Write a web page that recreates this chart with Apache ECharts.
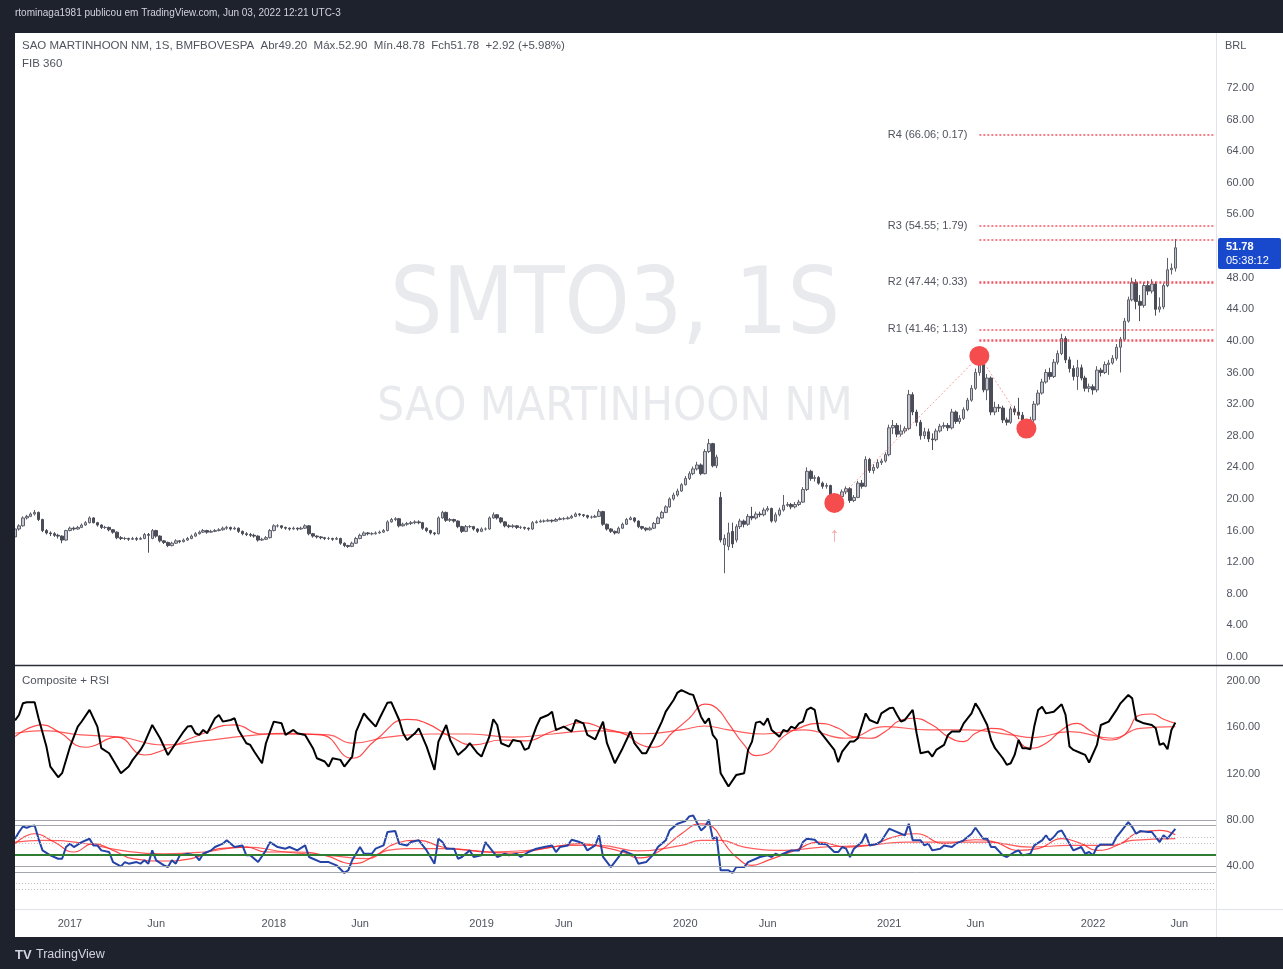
<!DOCTYPE html>
<html>
<head>
<meta charset="utf-8">
<title>SMTO3, 1S</title>
<script src="https://cdn.jsdelivr.net/npm/echarts@6/dist/echarts.min.js"></script>
<style>
html, body { margin: 0; padding: 0; background: #1e222d; }
#chart { width: 1283px; height: 969px; }
</style>
</head>
<body>
<div id="chart"></div>
<script>
// weekly bars, first one dated 2016-09-26, last one 2022-05-30
const firstWeek = Date.UTC(2016, 8, 26)
const futureWeeks = 10

// [open, close, low, high]
const weeklyOHLC = [
  [15.2,16.2,15.0,16.4],[16.2,16.6,16.0,16.8],[16.6,17.6,16.5,17.8],[17.6,17.8,17.4,18.0],[17.8,18.1,17.7,18.3],
  [18.1,18.3,17.9,18.6],[18.3,17.4,17.2,18.4],[17.4,16.0,15.8,17.5],[16.0,15.7,15.5,16.2],[15.7,15.6,15.3,15.9],
  [15.6,15.4,15.2,15.8],[15.4,15.3,15.0,15.6],[15.3,14.8,14.4,15.4],[14.8,16.0,14.7,16.1],[16.0,16.3,15.9,16.5],
  [16.3,16.2,16.0,16.5],[16.2,16.4,16.1,16.6],[16.4,16.7,16.3,16.9],[16.7,17.0,16.6,17.2],[17.0,17.6,16.9,17.8],
  [17.6,17.0,16.9,17.7],[17.0,16.7,16.5,17.1],[16.7,16.4,16.2,16.8],[16.4,16.4,16.2,16.6],[16.4,16.1,15.9,16.5],
  [16.1,15.8,15.6,16.2],[15.8,15.1,14.9,15.9],[15.1,15.0,14.8,15.3],[15.0,15.0,14.8,15.2],[15.0,14.9,14.7,15.1],
  [14.9,15.0,14.8,15.2],[15.0,14.9,14.7,15.2],[14.9,15.0,14.8,15.2],[15.0,15.5,14.9,15.7],[15.5,15.4,13.2,15.7],
  [15.0,16.0,14.9,16.2],[16.0,15.3,15.1,16.1],[15.3,14.7,14.5,15.4],[14.7,14.5,14.3,14.8],[14.5,14.1,13.9,14.6],
  [14.1,14.4,14.0,14.6],[14.4,14.7,14.3,14.9],[14.7,14.6,14.4,14.8],[14.6,14.8,14.5,15.0],[14.8,15.0,14.7,15.2],
  [15.0,15.3,14.9,15.5],[15.3,15.6,15.2,15.8],[15.6,15.8,15.5,16.0],[15.8,16.0,15.7,16.2],[16.0,15.8,15.6,16.1],
  [15.8,15.9,15.7,16.1],[15.9,16.0,15.8,16.2],[16.0,16.1,15.9,16.3],[16.1,16.3,16.0,16.5],[16.3,16.4,16.1,16.6],
  [16.4,16.2,16.0,16.5],[16.2,16.3,16.1,16.5],[16.3,15.9,15.7,16.4],[15.9,15.6,15.4,16.0],[15.6,15.5,15.3,15.8],
  [15.5,15.4,15.2,15.7],[15.4,15.3,15.1,15.6],[15.3,14.8,14.6,15.4],[14.8,14.9,14.7,15.1],[14.9,15.1,14.8,15.3],
  [15.1,16.0,15.0,16.2],[16.0,16.6,15.9,16.8],[16.6,16.6,16.4,16.8],[16.6,16.4,16.2,16.7],[16.4,16.3,16.1,16.5],
  [16.3,16.2,16.0,16.4],[16.2,16.3,16.1,16.5],[16.3,16.2,16.0,16.4],[16.2,16.3,16.1,16.5],[16.3,16.6,16.2,16.8],
  [16.6,15.6,15.4,16.7],[15.6,15.3,15.1,15.7],[15.3,15.2,15.0,15.4],[15.2,15.1,14.9,15.3],[15.1,15.0,14.8,15.2],
  [15.0,15.0,14.8,15.2],[15.0,14.9,14.7,15.1],[14.9,15.0,14.8,15.2],[15.0,14.4,14.2,15.1],[14.4,14.1,13.9,14.5],
  [14.1,14.0,13.8,14.2],[14.0,14.4,13.9,14.6],[14.4,15.0,14.3,15.2],[15.0,15.4,14.9,15.6],[15.4,15.7,15.3,15.9],
  [15.7,15.6,15.4,15.8],[15.6,15.6,15.4,15.8],[15.6,15.7,15.5,15.9],[15.7,15.8,15.6,16.0],[15.8,16.0,15.7,16.2],
  [16.0,17.1,15.9,17.3],[17.1,17.4,17.0,17.6],[17.4,17.5,17.2,17.7],[17.5,16.6,16.4,17.6],[16.6,16.8,16.5,17.0],
  [16.8,16.9,16.6,17.1],[16.9,17.0,16.7,17.2],[17.0,17.1,16.8,17.3],[17.1,17.0,16.8,17.3],[17.0,16.3,16.1,17.1],
  [16.3,16.0,15.8,16.4],[16.0,15.7,15.5,16.1],[15.7,15.6,15.4,15.8],[15.6,17.6,15.5,17.8],[17.6,18.3,17.5,18.5],
  [18.3,17.3,17.1,18.4],[17.3,17.4,17.1,17.6],[17.4,17.2,17.0,17.5],[17.2,16.5,16.3,17.3],[16.5,15.9,15.7,16.6],
  [15.9,16.5,15.8,16.7],[16.5,16.5,16.3,16.7],[16.5,16.2,16.0,16.6],[16.2,15.9,15.7,16.3],[15.9,16.2,15.8,16.4],
  [16.2,16.2,16.0,16.4],[16.2,17.6,16.1,17.8],[17.6,18.0,17.5,18.3],[18.0,17.6,17.4,18.1],[17.6,17.1,16.9,17.7],
  [17.1,16.6,16.4,17.2],[16.6,16.5,16.3,16.8],[16.5,16.6,16.3,16.8],[16.6,16.4,16.2,16.7],[16.4,16.4,16.2,16.6],
  [16.4,16.3,16.1,16.5],[16.3,16.2,16.0,16.4],[16.2,17.0,16.1,17.2],[17.0,17.1,16.9,17.3],[17.1,17.2,17.0,17.4],
  [17.2,17.2,17.0,17.4],[17.2,17.3,17.1,17.5],[17.3,17.2,17.0,17.4],[17.2,17.4,17.1,17.6],[17.4,17.5,17.3,17.7],
  [17.5,17.5,17.3,17.7],[17.5,17.6,17.4,17.8],[17.6,17.8,17.5,18.0],[17.8,18.1,17.7,18.3],[18.1,18.0,17.8,18.2],
  [18.0,17.9,17.7,18.1],[17.9,17.7,17.5,18.0],[17.7,17.7,17.5,17.9],[17.7,17.8,17.6,18.0],[17.8,18.4,17.7,18.7],
  [18.4,16.8,16.6,18.5],[16.8,16.2,16.0,16.9],[16.2,15.9,15.7,16.3],[15.9,15.7,15.5,16.0],[15.7,16.3,15.6,16.5],
  [16.3,16.8,16.2,17.0],[16.8,17.4,16.7,17.6],[17.4,17.6,17.3,17.8],[17.6,17.2,17.0,17.7],[17.2,16.5,16.3,17.3],
  [16.5,16.3,16.1,16.6],[16.3,16.1,15.9,16.4],[16.1,16.3,16.0,16.5],[16.3,16.9,16.2,17.1],[16.9,17.6,16.8,17.8],
  [17.6,18.3,17.5,18.5],[18.3,19.0,18.2,19.2],[19.0,20.0,18.9,20.2],[20.0,20.5,19.8,20.8],[20.5,21.0,20.3,21.3],
  [21.0,21.8,20.9,22.0],[21.8,22.6,21.7,22.9],[22.6,23.2,22.4,23.5],[23.2,23.8,23.0,24.1],[23.8,24.3,23.6,24.7],
  [24.3,23.2,23.0,24.5],[23.2,26.0,23.1,26.3],[26.0,27.0,25.8,27.6],[27.0,24.2,24.0,27.1],[24.2,25.3,23.9,25.6],
  [20.2,14.8,14.5,20.9],[14.2,15.0,10.6,15.5],[14.0,15.7,13.5,17.0],[15.9,14.3,13.8,17.0],[14.8,16.5,14.5,16.8],
  [16.5,17.2,16.2,17.5],[17.2,16.8,16.4,17.4],[16.8,17.8,16.6,18.1],[17.8,17.6,17.3,19.0],[17.6,18.1,17.4,18.4],
  [18.1,18.0,17.7,18.4],[18.0,18.6,17.8,18.9],[18.6,18.8,18.4,19.1],[18.8,17.2,17.0,18.9],[17.2,18.0,17.0,18.3],
  [18.0,18.6,17.8,18.9],[18.6,19.2,18.4,20.5],[19.2,19.3,19.0,19.6],[19.3,19.0,18.7,19.5],[19.0,19.3,18.8,19.6],
  [19.3,19.6,19.1,19.9],[19.6,21.2,19.5,21.5],[21.2,23.5,21.0,24.0],[23.5,22.6,22.3,23.7],[22.6,22.7,22.2,23.0],
  [22.7,22.0,21.8,22.9],[22.0,21.6,21.3,22.2],[21.6,21.7,21.3,22.0],[21.7,20.5,20.2,21.8],[20.5,20.0,19.2,20.7],
  [20.0,20.3,19.7,20.6],[20.3,20.9,20.1,21.2],[20.9,21.3,20.6,21.6],[21.3,19.8,19.5,21.5],[19.8,20.2,19.6,20.5],
  [20.2,22.0,20.1,22.3],[22.0,21.6,21.3,22.4],[21.6,25.0,21.5,25.4],[25.0,23.6,23.3,25.2],[23.6,24.0,23.2,24.4],
  [24.0,24.6,23.8,25.0],[24.6,24.8,24.3,25.1],[24.8,25.6,24.6,25.9],[25.6,29.0,25.4,29.4],[29.0,29.3,28.2,30.0],
  [29.3,28.2,27.8,29.6],[28.2,28.6,27.9,29.4],[28.6,28.9,28.3,29.2],[28.9,33.2,28.7,33.8],[33.2,31.0,30.6,33.5],
  [31.0,29.7,29.2,31.3],[29.7,28.0,27.5,30.0],[28.0,28.5,27.6,29.0],[28.5,27.6,27.2,28.9],[27.6,27.5,26.2,28.3],
  [27.5,28.6,27.3,28.9],[28.6,29.2,28.4,29.5],[29.2,29.3,28.9,29.7],[29.3,29.0,28.6,29.6],[29.0,31.0,28.8,31.4],
  [31.0,29.8,29.5,31.2],[29.8,30.2,29.5,30.6],[30.2,31.3,30.0,31.6],[31.3,32.5,31.1,32.8],[32.5,34.0,32.3,34.4],
  [34.0,36.0,33.8,36.5],[36.0,37.0,35.6,38.3],[37.0,33.8,33.5,37.4],[33.8,35.3,32.5,35.8],[35.3,31.0,30.6,35.5],
  [31.0,31.6,30.6,32.3],[31.6,31.5,31.0,32.0],[31.5,30.0,29.6,31.8],[30.0,29.7,29.3,30.3],[29.7,31.4,29.5,31.7],
  [31.4,31.0,30.6,31.8],[31.0,30.6,30.1,32.8],[30.6,29.5,29.0,31.0],[29.5,29.3,28.5,29.9],[29.3,30.0,29.0,30.4],
  [30.0,32.0,29.4,32.4],[32.0,33.4,31.8,33.8],[33.4,34.8,33.2,35.2],[34.8,36.0,34.6,36.4],[36.0,35.5,35.1,36.6],
  [35.5,37.3,35.3,37.7],[37.3,38.4,37.0,38.8],[38.4,40.3,38.2,40.9],[40.3,37.6,37.2,40.6],[37.6,36.5,36.0,38.0],
  [36.5,35.5,35.0,36.9],[35.5,36.6,33.8,37.6],[36.6,35.3,35.0,37.0],[35.3,34.0,33.6,35.6],[34.0,34.2,33.5,34.6],
  [34.2,33.8,33.2,34.5],[33.8,36.3,33.5,36.8],[36.3,36.0,35.5,36.6],[36.0,37.0,35.8,37.4],[37.0,37.2,35.7,37.6],
  [37.2,37.8,37.0,38.2],[37.8,39.2,37.5,39.6],[39.2,40.2,36.0,40.5],[40.2,42.5,40.0,42.9],[42.5,45.2,42.3,45.6],
  [45.2,47.4,45.0,48.0],[47.4,45.0,44.0,47.8],[45.0,44.5,42.5,45.8],[44.5,47.0,44.2,47.4],[47.0,46.3,45.8,47.6],
  [46.3,47.2,46.0,47.8],[47.2,44.0,43.2,47.5],[44.0,44.3,43.6,45.5],[44.3,47.0,44.0,47.3],[47.0,49.0,46.8,50.5],
  [49.0,49.2,48.4,49.8],[49.20,51.78,48.78,52.90]
]

// FIB 360 levels, drawn from the June 2021 top onwards
const fibStartWeek = 246
const fibLevels = [66.06, 54.55, 52.8, 47.44, 41.46, 40.1]
const fibLabels = ['R4 (66.06; 0.17)', 'R3 (54.55; 1.79)', '', 'R2 (47.44; 0.33)', 'R1 (41.46; 1.13)', '']
// pivots marked with red dots: [week, price]
const pivotPoints = [[209, 19.5], [246, 38.1], [258, 28.9]]
const arrowPoint = [[209, 15.4]]

// Composite index and its two averages: [week, value]
const compositeLine = [
  [0,166],[1,170.6],[2,180.7],[3,181.6],[5,181.6],[6,167.8],[8,143.3],[9,126],[11,116.8],[12,120.3],
  [14,143],[16,160.6],[17,165],[19,175],[21,160.6],[22,141.9],[24,137.5],[26,126],[27,120.3],[29,126],
  [30,131.8],[32,140.4],[33,146.2],[35,162],[37,150.5],[39,136],[41,146.2],[43,156.3],[44,160.6],[45,161],
  [46,154.8],[47,153.4],[48,157.7],[49,154.8],[51,167.8],[52,170.6],[53,164.9],[55,166.3],[56,167.8],[57,157.7],
  [59,146.2],[60,144.7],[61,139],[63,128.9],[64,146.2],[66,164.9],[68,163.4],[69,153.4],[71,157.7],[72,154.8],
  [74,153.4],[76,141.9],[77,133.2],[79,130.4],[80,126],[81,133.2],[83,131.8],[84,126],[86,134.7],[87,156.3],
  [89,172],[90,167.8],[92,160.6],[93,167.8],[95,181.3],[96,181.6],[98,166.3],[99,154.8],[100,149],[102,154.8],
  [103,159.1],[105,143.3],[107,123.2],[108,147.6],[110,162],[111,149],[113,136.1],[115,141.9],[116,146.2],[118,137.5],
  [119,134.7],[121,151.9],[122,166.9],[123,162],[124,146.2],[126,143.3],[127,149],[129,147.6],[130,140.4],[131,141.9],
  [133,160.6],[134,167.8],[136,170.6],[137,173.5],[138,157.7],[140,160.6],[142,156.3],[143,166.3],[145,163.4],[146,153.4],
  [148,149.6],[150,164.9],[151,146.2],[153,128.9],[155,141.9],[157,156.3],[158,146.2],[160,137.5],[161,137.5],[163,150.5],
  [165,164.9],[166,173.5],[168,183.6],[169,190],[170,192.2],[172,188.8],[173,188],[175,169.2],[176,163.4],[177,167.8],
  [178,153.4],[179,149],[180,120.3],[181,114.5],[182,108.8],[184,118.8],[186,120.3],[187,140.4],[188,147.6],[189,164],
  [190,164.9],[191,162],[192,167.8],[193,157.7],[195,151.9],[196,157.7],[197,156.3],[198,160.6],[199,159.1],[200,163.4],
  [201,164.9],[202,175],[203,177],[204,175],[205,157.7],[207,149],[209,140.4],[210,129.8],[211,139],[213,147.6],
  [214,147.6],[215,150.5],[217,172],[218,166.3],[220,163.4],[221,172],[223,176.4],[224,177],[225,170.6],[226,164.9],
  [227,166.3],[229,175],[230,154.8],[231,137.5],[233,139],[234,134.7],[235,140.4],[237,144.7],[238,153.4],[239,156.3],
  [241,156.3],[242,163.4],[244,172],[245,180.7],[246,175.5],[248,162],[249,149],[250,141.9],[252,133.2],[253,127.5],
  [254,128.9],[255,136.1],[256,149],[257,141.9],[258,141.9],[259,141],[260,160.6],[261,175],[262,177.8],[263,172],
  [265,173.5],[267,179.9],[268,170.6],[269,143.3],[270,140.4],[272,137.5],[273,136.1],[274,129.5],[276,144.7],[277,162],
  [279,164.9],[281,175],[282,180.7],[284,187.9],[285,185],[286,166.3],[288,163.4],[290,162],[291,159.1],[292,144.7],
  [293,146.2],[294,141],[295,157.7],[296,164]
]
const compositeFastMA = [
  [0,152],[7,162],[11,156.3],[18,142.7],[26,151.4],[33,136],[39,141.9],[46,152],[56,162],[63,154.2],
  [69,154.2],[78,153.4],[86,133.2],[92,149],[100,166.9],[105,163.4],[111,152],[117,144.7],[124,149],[130,148.2],
  [137,156.3],[145,164],[150,159.1],[156,153.4],[159,146],[163,142.7],[168,156.3],[172,167.8],[176,180],[179,176.4],
  [182,163.4],[186,144.7],[189,135.5],[192,137.5],[196,151.9],[201,160.6],[205,163.4],[210,159.1],[214,151.4],[218,150.5],
  [222,156.3],[226,166.3],[229,167.8],[234,162],[238,151.9],[242,147.6],[245,154.8],[249,159.1],[254,154.8],[259,141.9],
  [263,146.2],[267,157.7],[271,163.4],[274,157.7],[279,149],[283,153.4],[287,170.6],[290,171.5],[293,166.9],[296,163.4]
]
const compositeSlowMA = [
  [0,154.8],[7,157.1],[17,153.4],[27,151.4],[38,144.7],[48,148.2],[59,152.5],[69,154.8],[80,153.4],[86,146.2],
  [95,151.4],[106,154.2],[116,154.2],[127,151.4],[137,154.2],[148,157.1],[160,154.4],[170,157.7],[176,161.1],[182,157.7],
  [191,154.2],[201,157.7],[212,150.5],[222,160.6],[233,157.7],[243,157.7],[254,153.4],[260,151.1],[269,156.3],[280,150.5],
  [287,159.1],[296,160.6]
]

// RSI and its two averages: [week, value]
const rsiLine = [
  [0,63.6],[1,69.4],[2,74.2],[3,73],[4,74.5],[5,75.1],[6,63.6],[7,53.5],[9,49.2],[11,46.3],
  [12,46.3],[13,56.4],[14,59.3],[15,56.4],[17,60.7],[19,63.6],[20,57.8],[21,57.8],[22,53.5],[24,52.1],
  [25,43.4],[27,39.7],[28,43.4],[29,42],[31,43.4],[32,42],[33,44.9],[34,42],[35,53.5],[36,44.9],
  [38,40.6],[39,39.1],[40,44.9],[41,42],[42,49.2],[44,50.6],[46,49.2],[47,44.9],[48,50.6],[50,53.5],
  [51,56.4],[53,59.3],[54,62.2],[56,56.4],[58,57.8],[59,49.2],[60,49.2],[62,43.4],[64,53.5],[65,60.7],
  [67,56.4],[69,55],[70,56.4],[72,53.5],[74,57.8],[75,47.8],[76,46.3],[78,43.4],[80,43.4],[82,40.6],
  [84,34],[85,36.3],[86,44.9],[88,56.4],[89,50.6],[91,50.6],[92,55],[94,57.8],[95,69.4],[97,70.2],
  [98,59.3],[100,57.8],[101,60.7],[103,62.2],[105,53.5],[107,42],[108,63.6],[109,60.7],[110,55],[112,55],
  [113,46.3],[114,47.8],[116,53.5],[117,47.8],[119,49.2],[120,60.7],[122,52.1],[123,47.8],[125,50.6],[126,49.2],
  [128,50.6],[129,47.8],[131,52.1],[133,55],[135,56.4],[137,57.8],[138,52.1],[139,56.4],[141,57.8],[142,62.7],
  [144,60.7],[145,59.3],[146,53.5],[148,57.8],[149,66.5],[150,47.8],[152,39.1],[154,47.8],[155,53.5],[158,49.2],
  [159,42],[161,43.4],[163,50.6],[164,56.4],[166,62.2],[167,70.8],[169,76.5],[171,78.8],[172,82.9],[173,83.7],
  [175,70.8],[176,73.7],[177,80],[178,63.6],[179,65],[180,36.3],[182,36.3],[183,34],[184,39.1],[186,39.1],
  [187,43.4],[189,46.3],[190,47.8],[192,49.2],[193,47.8],[194,50.6],[195,49.2],[197,52.1],[198,53.5],[200,53.5],
  [201,60.7],[202,63.6],[204,62.7],[205,59.3],[207,58.7],[209,52.1],[210,52.1],[211,56.4],[212,55],[213,47.8],
  [214,55],[216,60.7],[217,67.9],[218,57.8],[220,59.3],[221,61.6],[223,72.2],[224,70.8],[226,67.9],[227,66.5],
  [228,76.5],[229,62.2],[231,62.2],[232,57.8],[233,59.3],[234,53.5],[236,55],[237,57.8],[239,56.4],[240,59.3],
  [242,62.2],[244,67.9],[245,73.1],[247,63.6],[248,63.6],[249,56.4],[250,56.4],[252,49.2],[253,47.8],[255,52.1],
  [256,53.5],[257,49.2],[259,50.6],[260,57.8],[262,62.2],[263,66.5],[264,62.2],[265,65],[266,69.4],[267,70.8],
  [269,59.3],[270,53.5],[272,56.4],[273,50.6],[274,52.1],[275,49.2],[276,56.4],[277,58.7],[280,58.7],[281,65],
  [283,73.7],[284,78],[285,73.7],[286,67.9],[287,70.2],[289,69.4],[290,69.4],[292,60.7],[293,66.5],[294,63.6],
  [295,67.9],[296,72.2]
]
const rsiFastMA = [
  [0,59.3],[5,67.9],[10,60.7],[15,52.1],[20,59.3],[25,53.5],[30,46.3],[38,44.3],[45,46.3],[52,55],
  [59,56.4],[64,52.1],[71,52.1],[79,49.2],[86,42],[92,49.2],[97,59.3],[103,62.2],[109,56.4],[116,53.5],
  [126,51.2],[137,56.4],[144,59.3],[150,56.4],[155,52.1],[159,47],[164,52.1],[170,67.9],[175,76.5],[178,73.7],
  [181,59.3],[184,47.8],[188,40.6],[192,44.9],[199,53.5],[205,60.7],[212,56.4],[218,57.8],[224,65],[230,67.9],
  [237,59.3],[245,62.7],[250,60.7],[256,53.5],[261,55],[267,63.6],[272,59.3],[276,53.5],[282,59.3],[287,69.4],
  [292,70.8],[296,67]
]
const rsiSlowMA = [
  [0,60.7],[7,62.2],[17,59.9],[27,53.5],[38,50.6],[48,52.1],[59,56.4],[69,52.1],[80,49.2],[90,46.3],
  [95,53.5],[100,55],[111,55],[121,52.1],[131,53.5],[142,57.8],[149,57.8],[159,53],[170,57.8],[175,62.2],
  [180,62.2],[186,56.4],[196,53.5],[206,56.4],[217,57.8],[227,60.7],[238,60.7],[248,60.7],[259,56.4],[269,57.8],
  [280,57.8],[285,62.2],[296,63.6]
]
const rsiBands = [80, 75, 65, 60, 50, 40, 35, 25, 20]

const priceTicks = [0, 4, 8, 12, 16, 20, 24, 28, 32, 36, 40, 44, 48, 52, 56, 60, 64, 68, 72]
const indicatorTicks = [40, 80, 120, 160, 200]

// week dates and the time labels (year on the first bar of January, Jun on the first bar of June)
const weekDates = []
const tickLabels = []
for (let i = 0; i < weeklyOHLC.length + futureWeeks; i++) {
  const d = new Date(firstWeek + i * 7 * 86400000)
  weekDates.push(d.toISOString().slice(0, 10))
  const prev = new Date(firstWeek + (i - 1) * 7 * 86400000)
  let label = ''
  if (i > 0 && d.getUTCMonth() !== prev.getUTCMonth()) {
    if (d.getUTCMonth() === 0) label = String(d.getUTCFullYear())
    else if (d.getUTCMonth() === 5) label = 'Jun'
  }
  tickLabels.push(label)
}
const lastWeek = weekDates.length - 1

const FONT = '"Liberation Sans", Arial, sans-serif'
const WATERMARK_FONT = '"Liberation Sans Narrow", "DejaVu Sans Condensed", sans-serif'
const TXT = '#50535e'
const FIB_RED = 'rgba(242,54,69,0.85)'

const chart = echarts.init(document.getElementById('chart'))

const fibMarks = fibLevels.map((lv, k) => [
  {
    coord: [fibStartWeek, lv],
    lineStyle: { width: (k === 3 || k === 5) ? 2.5 : 1.5 },
    label: { show: fibLabels[k] !== '', formatter: fibLabels[k] }
  },
  { coord: [lastWeek, lv] }
])

const bandMarks = rsiBands.map(v => {
  let style = { color: '#a3a6af', width: 1, type: 'solid' }
  if (v === 50) style = { color: '#2e7d32', width: 2, type: 'solid' }
  else if (v === 65 || v === 60 || v === 25 || v === 20) style = { color: '#b8bbc3', width: 1, type: [1, 2] }
  return { yAxis: v, lineStyle: style }
})

const option = {
  animation: false,
  backgroundColor: '#ffffff',
  textStyle: { fontFamily: FONT },
  grid: [
    { left: 13.1, right: 66.5, top: 33, height: 632 },
    { left: 13.1, right: 66.5, top: 666, height: 243 }
  ],
  xAxis: [
    {
      type: 'category', gridIndex: 0, data: weekDates, boundaryGap: true,
      axisLine: { show: false }, axisTick: { show: false }, axisLabel: { show: false }, splitLine: { show: false }
    },
    {
      type: 'category', gridIndex: 1, data: weekDates, boundaryGap: true,
      axisLine: { show: true, lineStyle: { color: '#e0e3eb' } },
      axisTick: { show: false },
      splitLine: { show: false },
      axisLabel: {
        interval: (idx) => tickLabels[idx] !== '',
        formatter: (val, idx) => tickLabels[idx],
        color: TXT, fontSize: 11, margin: 9
      }
    }
  ],
  yAxis: [
    {
      type: 'value', gridIndex: 0, position: 'right', min: -1.01, max: 78.96, scale: true,
      splitLine: { show: false }, axisLine: { show: false }, axisTick: { show: false },
      axisLabel: {
        customValues: priceTicks, formatter: v => v.toFixed(2),
        color: TXT, fontSize: 11, margin: 10, align: 'left'
      }
    },
    {
      type: 'value', gridIndex: 1, position: 'right', min: 2.8, max: 213, scale: true,
      splitLine: { show: false }, axisLine: { show: false }, axisTick: { show: false },
      axisLabel: {
        customValues: indicatorTicks, formatter: v => v.toFixed(2),
        color: TXT, fontSize: 11, margin: 10, align: 'left'
      }
    }
  ],
  series: [
    {
      name: 'SMTO3', type: 'candlestick', xAxisIndex: 0, yAxisIndex: 0,
      data: weeklyOHLC, barWidth: 3,
      itemStyle: {
        color: '#c3c5cc', color0: '#4a4d57',
        borderColor: '#5d606b', borderColor0: '#4a4d57', borderWidth: 1
      },
      markLine: {
        silent: true, symbol: ['none', 'none'], animation: false,
        lineStyle: { color: FIB_RED, type: [2, 2] },
        label: { position: 'start', distance: 12, color: TXT, fontSize: 11, fontFamily: FONT },
        data: fibMarks
      }
    },
    {
      type: 'line', xAxisIndex: 0, yAxisIndex: 0, data: pivotPoints, symbol: 'none',
      lineStyle: { color: 'rgba(245,80,80,0.55)', width: 1, type: [2, 2] }, z: 3
    },
    {
      type: 'scatter', xAxisIndex: 0, yAxisIndex: 0, data: pivotPoints, symbolSize: 20,
      itemStyle: { color: '#f54d4d', opacity: 1 }, z: 4
    },
    {
      type: 'scatter', xAxisIndex: 0, yAxisIndex: 0, data: arrowPoint, symbolSize: 1,
      itemStyle: { color: 'rgba(0,0,0,0)' },
      label: { show: true, position: 'inside', formatter: '↑', color: 'rgba(245,90,90,0.7)', fontSize: 20 }
    },
    {
      type: 'line', xAxisIndex: 1, yAxisIndex: 1, data: compositeSlowMA, symbol: 'none', smooth: 0.5,
      lineStyle: { color: 'rgba(255,40,40,0.75)', width: 1.2 }
    },
    {
      type: 'line', xAxisIndex: 1, yAxisIndex: 1, data: compositeFastMA, symbol: 'none', smooth: 0.5,
      lineStyle: { color: 'rgba(255,40,40,0.85)', width: 1.2 }
    },
    {
      type: 'line', xAxisIndex: 1, yAxisIndex: 1, data: compositeLine, symbol: 'none',
      lineStyle: { color: '#000000', width: 2 }
    },
    {
      type: 'line', xAxisIndex: 1, yAxisIndex: 1, data: rsiSlowMA, symbol: 'none', smooth: 0.5,
      lineStyle: { color: 'rgba(255,40,40,0.75)', width: 1.2 },
      markLine: { silent: true, symbol: ['none', 'none'], label: { show: false }, data: bandMarks }
    },
    {
      type: 'line', xAxisIndex: 1, yAxisIndex: 1, data: rsiFastMA, symbol: 'none', smooth: 0.5,
      lineStyle: { color: 'rgba(255,40,40,0.85)', width: 1.2 }
    },
    {
      type: 'line', xAxisIndex: 1, yAxisIndex: 1, data: rsiLine, symbol: 'none',
      lineStyle: { color: '#2443a6', width: 2 }
    }
  ],
  graphic: [
    // watermark
    {
      type: 'text', z: 0, style: {
        text: 'SMTO3, 1S', x: 615, y: 309, align: 'center', verticalAlign: 'middle',
        fill: '#e9eaed', fontSize: 92, fontFamily: WATERMARK_FONT
      }
    },
    {
      type: 'text', z: 0, style: {
        text: 'SAO MARTINHOON NM', x: 615, y: 408, align: 'center', verticalAlign: 'middle',
        fill: '#e9eaed', fontSize: 47, fontFamily: WATERMARK_FONT
      }
    },
    // pane legends
    {
      type: 'text', z: 50, style: {
        text: 'SAO MARTINHOON NM, 1S, BMFBOVESPA  Abr49.20  Máx.52.90  Mín.48.78  Fch51.78  +2.92 (+5.98%)',
        x: 22, y: 46, verticalAlign: 'middle', fill: TXT, fontSize: 11.5, fontFamily: FONT
      }
    },
    { type: 'text', z: 50, style: { text: 'FIB 360', x: 22, y: 64, verticalAlign: 'middle', fill: TXT, fontSize: 11.5, fontFamily: FONT } },
    { type: 'text', z: 50, style: { text: 'Composite + RSI', x: 22, y: 681, verticalAlign: 'middle', fill: TXT, fontSize: 11.5, fontFamily: FONT } },
    { type: 'text', z: 50, style: { text: 'BRL', x: 1225, y: 46, verticalAlign: 'middle', fill: TXT, fontSize: 11, fontFamily: FONT } },
    // separators
    { type: 'line', z: 50, shape: { x1: 1216.5, y1: 33, x2: 1216.5, y2: 937 }, style: { stroke: '#e0e3eb', lineWidth: 1 } },
    { type: 'line', z: 50, shape: { x1: 15, y1: 665.5, x2: 1283, y2: 665.5 }, style: { stroke: '#2a2e39', lineWidth: 1.5 } },
    { type: 'line', z: 50, shape: { x1: 15, y1: 909.5, x2: 1283, y2: 909.5 }, style: { stroke: '#e0e3eb', lineWidth: 1 } },
    // last price tag
    { type: 'rect', z: 60, shape: { x: 1218, y: 238, width: 63, height: 31, r: 2 }, style: { fill: '#1848cc' } },
    { type: 'text', z: 61, style: { text: '51.78', x: 1226, y: 247, verticalAlign: 'middle', fill: '#ffffff', fontSize: 11, fontWeight: 'bold', fontFamily: FONT } },
    { type: 'text', z: 61, style: { text: '05:38:12', x: 1226, y: 261, verticalAlign: 'middle', fill: '#ffffff', fontSize: 11, fontFamily: FONT } },
    // dark frame
    { type: 'rect', z: 100, shape: { x: 0, y: 0, width: 1283, height: 33 }, style: { fill: '#1e222d' } },
    { type: 'rect', z: 100, shape: { x: 0, y: 0, width: 15, height: 969 }, style: { fill: '#1e222d' } },
    { type: 'rect', z: 100, shape: { x: 0, y: 937, width: 1283, height: 32 }, style: { fill: '#1e222d' } },
    {
      type: 'text', z: 101, style: {
        text: 'rtominaga1981 publicou em TradingView.com, Jun 03, 2022 12:21 UTC-3',
        x: 15, y: 13, verticalAlign: 'middle', fill: '#d1d4dc', fontSize: 10, fontFamily: FONT
      }
    },
    { type: 'text', z: 101, style: { text: 'TV', x: 15, y: 955, verticalAlign: 'middle', fill: '#d1d4dc', fontSize: 13, fontWeight: 900, fontFamily: FONT } },
    { type: 'text', z: 101, style: { text: 'TradingView', x: 36, y: 955, verticalAlign: 'middle', fill: '#d1d4dc', fontSize: 12.5, fontFamily: FONT } }
  ]
}

chart.setOption(option)
</script>
</body>
</html>
